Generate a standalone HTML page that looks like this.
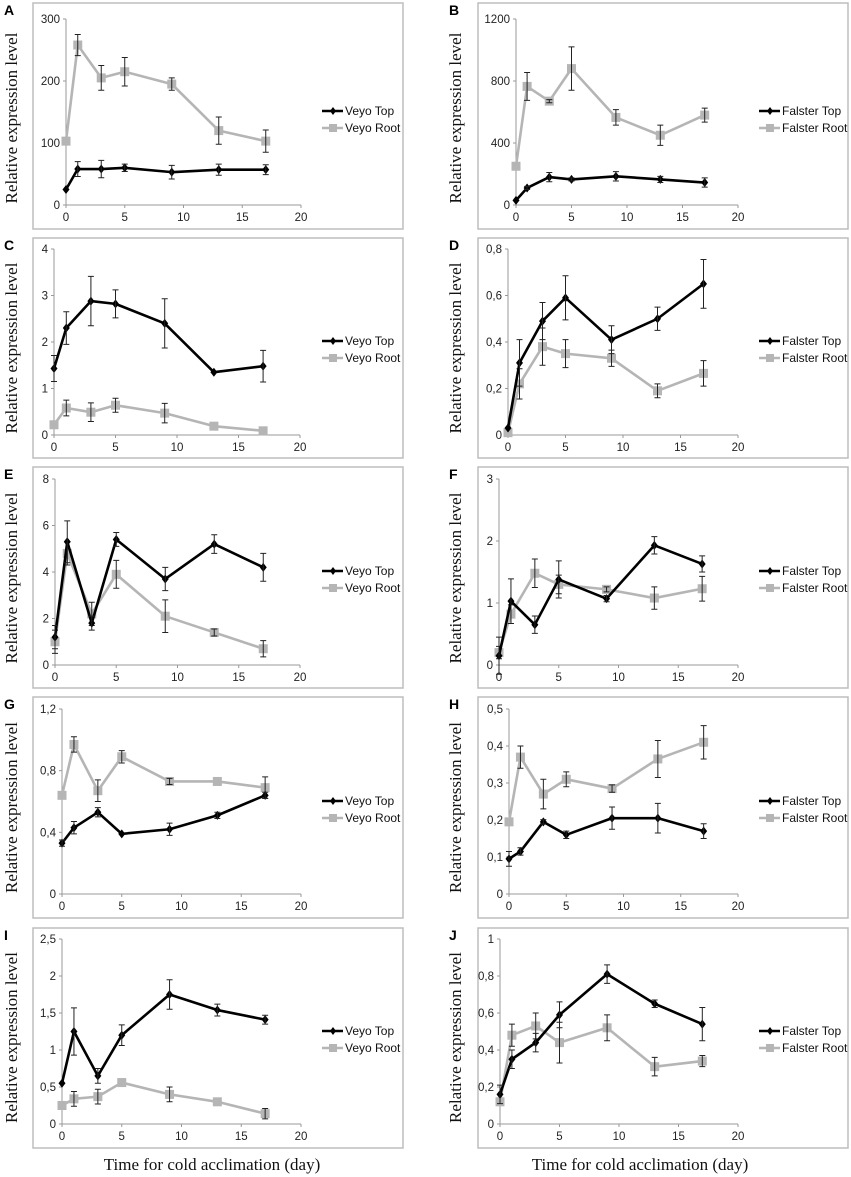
<!DOCTYPE html>
<html><head><meta charset="utf-8"><style>
body{margin:0;background:#fff;}
svg{display:block;}
.tk{font-family:"Liberation Sans",sans-serif;font-size:11.5px;fill:#222;}
.lg{font-family:"Liberation Sans",sans-serif;font-size:12px;fill:#111;}
.yl{font-family:"Liberation Serif",serif;font-size:17px;fill:#111;}
.pl{font-family:"Liberation Sans",sans-serif;font-size:14px;font-weight:bold;fill:#000;}
</style></head><body>
<svg id="fig" width="851" height="1177" viewBox="0 0 851 1177" xmlns="http://www.w3.org/2000/svg">
<text class="yl" x="212" y="1170" text-anchor="middle" font-size="18">Time for cold acclimation (day)</text>
<text class="yl" x="640" y="1170" text-anchor="middle" font-size="18">Time for cold acclimation (day)</text>
</svg>
<script>
const days = [0,1,3,5,9,13,17];
const xTicks = [0,5,10,15,20];
// Panel A
const aTop=[25,58,58,60,53,57,57], aTopErr=[0,12,14,6,11,9,8];
const aRoot=[103,258,205,215,195,120,103], aRootErr=[0,17,20,23,10,22,18];
const aTicks=[0,100,200,300], aTickLabels=["0","100","200","300"];
// Panel B
const bTop=[30,110,180,165,185,165,145], bTopErr=[0,10,30,10,30,20,30];
const bRoot=[250,765,670,880,565,450,580], bRootErr=[0,90,10,140,50,65,45];
const bTicks=[0,400,800,1200], bTickLabels=["0","400","800","1200"];
// Panel C
const cTop=[1.43,2.3,2.88,2.82,2.4,1.35,1.48], cTopErr=[0.28,0.35,0.53,0.3,0.53,0,0.34];
const cRoot=[0.22,0.58,0.49,0.64,0.47,0.19,0.09], cRootErr=[0,0.17,0.2,0.15,0.21,0,0];
const cTicks=[0,1,2,3,4], cTickLabels=["0","1","2","3","4"];
// Panel D
const dTop=[0.03,0.31,0.49,0.59,0.41,0.5,0.65], dTopErr=[0,0.1,0.08,0.095,0.06,0.05,0.105];
const dRoot=[0.01,0.22,0.38,0.35,0.33,0.19,0.265], dRootErr=[0,0.065,0.08,0.06,0.035,0.03,0.055];
const dTicks=[0,0.2,0.4,0.6,0.8], dTickLabels=["0","0,2","0,4","0,6","0,8"];
// Panel E
const eTop=[1.2,5.3,1.8,5.4,3.7,5.2,4.2], eTopErr=[0.5,0.9,0.3,0.3,0.5,0.4,0.6];
const eRoot=[1.0,4.8,2.2,3.9,2.1,1.4,0.7], eRootErr=[0.5,0.5,0.5,0.6,0.7,0.15,0.35];
const eTicks=[0,2,4,6,8], eTickLabels=["0","2","4","6","8"];
// Panel F
const fTop=[0.15,1.03,0.65,1.38,1.07,1.93,1.63], fTopErr=[0.3,0.36,0.14,0.3,0.05,0.14,0.13];
const fRoot=[0.2,0.82,1.48,1.3,1.22,1.08,1.23], fRootErr=[0.1,0.15,0.23,0.15,0.04,0.18,0.2];
const fTicks=[0,1,2,3], fTickLabels=["0","1","2","3"];
// Panel G
const gTop=[0.33,0.43,0.53,0.39,0.42,0.51,0.64], gTopErr=[0.02,0.04,0.03,0,0.04,0.02,0.02];
const gRoot=[0.64,0.97,0.67,0.89,0.73,0.73,0.69], gRootErr=[0,0.05,0.07,0.04,0.02,0,0.07];
const gTicks=[0,0.4,0.8,1.2], gTickLabels=["0","0,4","0,8","1,2"];
// Panel H
const hTop=[0.095,0.115,0.195,0.16,0.205,0.205,0.17], hTopErr=[0.02,0.01,0.006,0.01,0.03,0.04,0.02];
const hRoot=[0.195,0.37,0.27,0.31,0.285,0.365,0.41], hRootErr=[0,0.03,0.04,0.02,0.01,0.05,0.045];
const hTicks=[0,0.1,0.2,0.3,0.4,0.5], hTickLabels=["0","0,1","0,2","0,3","0,4","0,5"];
// Panel I
const iTop=[0.55,1.25,0.65,1.2,1.75,1.54,1.41], iTopErr=[0,0.32,0.1,0.14,0.2,0.08,0.06];
const iRoot=[0.25,0.34,0.37,0.56,0.4,0.3,0.14], iRootErr=[0,0.1,0.1,0,0.1,0,0.07];
const iTicks=[0,0.5,1,1.5,2,2.5], iTickLabels=["0","0,5","1","1,5","2","2,5"];
// Panel J
const jTop=[0.16,0.35,0.44,0.59,0.81,0.65,0.54], jTopErr=[0.05,0.05,0.05,0.07,0.05,0.02,0.09];
const jRoot=[0.12,0.48,0.53,0.44,0.52,0.31,0.34], jRootErr=[0,0.06,0.07,0.11,0.07,0.05,0.03];
const jTicks=[0,0.2,0.4,0.6,0.8,1], jTickLabels=["0","0,2","0,4","0,6","0,8","1"];

const NS="http://www.w3.org/2000/svg";
const svg=document.getElementById('fig');
function mk(tag,attrs,parent){const e=document.createElementNS(NS,tag);for(const k in attrs)e.setAttribute(k,attrs[k]);(parent||svg).appendChild(e);return e;}

function panel(p){
  const g=mk('g',{});
  
  
  const box=mk('rect',{x:p.bx,y:p.by,width:p.bw,height:p.bh,fill:'none',stroke:'#bdbdbd','stroke-width':1.5},g);
  
  
  const lab=mk('text',{x:p.lx,y:p.by+12,class:'pl'},g);lab.textContent=p.id;
  
  
  const yl=mk('text',{class:'yl','text-anchor':'middle',transform:`translate(${p.ylx},${(p.y0+p.yt)/2+6}) rotate(-90)`},g);
  yl.textContent='Relative expression level';
  
  
  const ymax=p.ticks[p.ticks.length-1];
  const X=v=>p.x0+(p.x20-p.x0)*v/20;
  const Y=v=>p.y0-(p.y0-p.yt)*v/ymax;
  const ax=mk('path',{d:`M${p.x0},${p.yt}V${p.y0}H${p.x20}`,fill:'none',stroke:'#999','stroke-width':1},g);
  
  
  p.ticks.forEach((t,i)=>{
    mk('line',{x1:p.x0-3,x2:p.x0,y1:Y(t),y2:Y(t),stroke:'#999'},g);
    const tt=mk('text',{x:p.x0-6,y:Y(t)+4,class:'tk','text-anchor':'end'},g);tt.textContent=p.labels[i];
    
    
  });
  xTicks.forEach(t=>{
    mk('line',{x1:X(t),x2:X(t),y1:p.y0,y2:p.y0+3,stroke:'#999'},g);
    const tt=mk('text',{x:X(t),y:p.y0+16,class:'tk','text-anchor':'middle'},g);tt.textContent=String(t);
    
    
  });
  const series=[{v:p.root,e:p.rootErr,c:'#b5b5b5',sq:true,n:'root'},{v:p.top,e:p.topErr,c:'#000',sq:false,n:'top'}];
  series.forEach(s=>{
    const sg=mk('g',{},g);
    
    
    const d=s.v.map((v,i)=>(i?'L':'M')+X(days[i])+','+Y(v)).join('');
    mk('path',{d,fill:'none',stroke:s.c,'stroke-width':2.6,'stroke-linejoin':'round'},sg);
    s.v.forEach((v,i)=>{
      if(s.sq){mk('rect',{x:X(days[i])-4.5,y:Y(v)-4.5,width:9,height:9,fill:s.c},sg);}
      else{const cx=X(days[i]),cy=Y(v);mk('path',{d:`M${cx},${cy-4.5}L${cx+3.5},${cy}L${cx},${cy+4.5}L${cx-3.5},${cy}Z`,fill:'#000'},sg);}
    });
    s.v.forEach((v,i)=>{
      const e=s.e[i]; if(!e) return;
      const cx=X(days[i]);
      mk('path',{d:`M${cx},${Y(v-e)}V${Y(v+e)}M${cx-3},${Y(v+e)}H${cx+3}M${cx-3},${Y(v-e)}H${cx+3}`,stroke:'#222','stroke-width':1,fill:'none'},sg);
    });
  });
  const lg=mk('g',{},g);
  
  
  const ly1=p.yt+92, ly2=p.yt+109;
  mk('line',{x1:p.legx,x2:p.legx+21,y1:ly1,y2:ly1,stroke:'#000','stroke-width':2.6},lg);
  const cx=p.legx+11;
  mk('path',{d:`M${cx},${ly1-4}L${cx+3},${ly1}L${cx},${ly1+4}L${cx-3},${ly1}Z`,fill:'#000'},lg);
  const t1=mk('text',{x:p.legx+23,y:ly1+4,class:'lg'},lg);t1.textContent=p.name+' Top';
  
  
  mk('line',{x1:p.legx,x2:p.legx+21,y1:ly2,y2:ly2,stroke:'#b5b5b5','stroke-width':2.6},lg);
  mk('rect',{x:cx-4,y:ly2-4,width:8,height:8,fill:'#b5b5b5'},lg);
  const t2=mk('text',{x:p.legx+23,y:ly2+4,class:'lg'},lg);t2.textContent=p.name+' Root';
  
  
}
const L={bx:33,bw:370,lx:4,ylx:17,legx:322,name:'Veyo'};
const R={bx:478,bw:370,lx:449,ylx:461,legx:759,name:'Falster'};
const rows=[{by:3,bh:226},{by:238,bh:220},{by:467,bh:221},{by:697,bh:221},{by:928,bh:220}];
panel({...L,...rows[0],id:'A',x0:66,x20:301,y0:205,yt:19,top:aTop,topErr:aTopErr,root:aRoot,rootErr:aRootErr,ticks:aTicks,labels:aTickLabels});
panel({...R,...rows[0],id:'B',x0:516,x20:738,y0:205,yt:19,top:bTop,topErr:bTopErr,root:bRoot,rootErr:bRootErr,ticks:bTicks,labels:bTickLabels});
panel({...L,...rows[1],id:'C',x0:54,x20:300,y0:435,yt:249,top:cTop,topErr:cTopErr,root:cRoot,rootErr:cRootErr,ticks:cTicks,labels:cTickLabels});
panel({...R,...rows[1],id:'D',x0:508,x20:738,y0:435,yt:249,top:dTop,topErr:dTopErr,root:dRoot,rootErr:dRootErr,ticks:dTicks,labels:dTickLabels});
panel({...L,...rows[2],id:'E',x0:55,x20:300,y0:665,yt:479,top:eTop,topErr:eTopErr,root:eRoot,rootErr:eRootErr,ticks:eTicks,labels:eTickLabels});
panel({...R,...rows[2],id:'F',x0:499,x20:738,y0:665,yt:479,top:fTop,topErr:fTopErr,root:fRoot,rootErr:fRootErr,ticks:fTicks,labels:fTickLabels});
panel({...L,...rows[3],id:'G',x0:62,x20:301,y0:894,yt:709,top:gTop,topErr:gTopErr,root:gRoot,rootErr:gRootErr,ticks:gTicks,labels:gTickLabels});
panel({...R,...rows[3],id:'H',x0:509,x20:738,y0:894,yt:709,top:hTop,topErr:hTopErr,root:hRoot,rootErr:hRootErr,ticks:hTicks,labels:hTickLabels});
panel({...L,...rows[4],id:'I',x0:62,x20:301,y0:1124,yt:939,top:iTop,topErr:iTopErr,root:iRoot,rootErr:iRootErr,ticks:iTicks,labels:iTickLabels});
panel({...R,...rows[4],id:'J',x0:500,x20:738,y0:1124,yt:939,top:jTop,topErr:jTopErr,root:jRoot,rootErr:jRootErr,ticks:jTicks,labels:jTickLabels});
</script>
</body></html>
